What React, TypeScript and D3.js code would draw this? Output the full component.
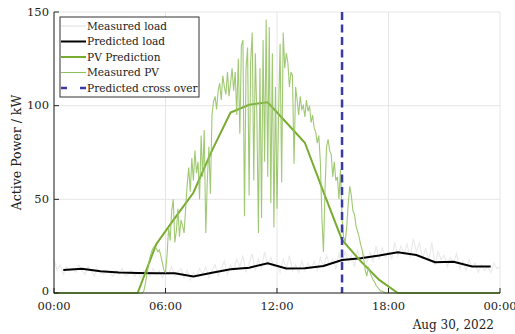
import * as d3 from 'd3';

// hours of day, half-hour hourly samples of the predictions
const predHours = [0.5, 1.5, 2.5, 3.5, 4.5, 5.5, 6.5, 7.5, 8.5, 9.5, 10.5, 11.5, 12.5, 13.5, 14.5, 15.5, 16.5, 17.5, 18.5, 19.5, 20.5, 21.5, 22.5, 23.5];
const predictedLoad = [12.3, 13.0, 11.6, 11.0, 10.7, 10.6, 10.5, 8.8, 10.8, 12.7, 13.5, 15.9, 13.1, 13.2, 14.4, 17.6, 18.5, 20.0, 21.8, 20.3, 16.4, 16.7, 14.1, 14.1];
const pvPrediction = [0, 0, 0, 0, 0, 26, 40, 53.5, 76, 96.3, 100.5, 101.8, 91, 80.2, 54, 28.3, 17, 7, 0, 0, 0, 0, 0, 0];

// measured load, 10 min samples from 00:00 to 24:00
const measuredLoad = [
  18, 12, 15, 10, 14, 12,
  13, 11, 15, 12, 10, 14,
  12, 9, 13, 11, 10, 12,
  11, 9, 12, 10, 13, 9,
  10, 12, 9, 11, 8, 12,
  11, 9, 13, 10, 12, 8,
  12, 10, 14, 9, 11, 13,
  8, 12, 7, 11, 9, 13,
  10, 14, 8, 12, 15, 9,
  13, 17, 10, 15, 12, 18,
  14, 20, 11, 16, 21, 12,
  18, 13, 22, 15, 19, 14,
  16, 11, 18, 13, 20, 12,
  15, 11, 17, 12, 16, 13,
  17, 12, 19, 14, 20, 15,
  18, 13, 21, 16, 22, 17,
  20, 14, 23, 17, 21, 16,
  22, 17, 25, 18, 24, 19,
  23, 18, 27, 20, 25, 21,
  26, 19, 29, 22, 27, 18,
  24, 17, 27, 15, 22, 18,
  20, 14, 19, 16, 21, 13,
  17, 12, 18, 14, 16, 11,
  15, 12, 14, 11, 16, 13,
  14,
];

// measured PV, 5 min samples from 04:30 to 18:00 (zero outside)
const measuredPvStart = 4.5;
const measuredPv = [
  0, 0, 0, 0, 1, 5, 10, 15, 19, 22, 24, 25,
  24, 22, 23, 20, 16, 12, 11, 20, 35, 28, 44, 50,
  27, 33, 45, 30, 39, 36, 32, 45, 58, 67, 54, 72,
  60, 76, 64, 70, 50, 84, 62, 87, 32, 60, 78, 53,
  95, 102, 105, 98, 108, 112, 103, 116, 110, 106, 118, 105,
  112, 120, 108, 118, 95, 125, 85, 132, 135, 41, 120, 131,
  52, 124, 139, 60, 128, 95, 32, 120, 40, 135, 70, 146,
  62, 142, 48, 128, 35, 110, 45, 95, 133, 59, 139, 120,
  128, 123, 110, 118, 116, 69, 110, 103, 95, 105, 98, 100,
  94, 103, 97, 100, 91, 95, 88, 86, 80, 84, 70, 40,
  22, 55, 78, 82, 76, 74, 62, 70, 60, 62, 50, 66,
  40, 30, 27, 35, 48, 57, 52, 44, 42, 36, 33, 30,
  26, 23, 18, 12, 9, 14, 11, 9, 7, 6, 4, 3,
  2, 1, 1, 0.5, 0, 0, 0,
];

const crossOverHour = 15.5;
const yTicks = [0, 50, 100, 150];
const xTicks = [0, 6, 12, 18, 24];
const xTickLabels = ['00:00', '06:00', '12:00', '18:00', '00:00'];
const dateLabel = 'Aug 30, 2022';

const W = 515;
const H = 334;
const M = { top: 12, right: 15, bottom: 41, left: 54 };
const FONT = "'DejaVu Serif', serif";
const GREEN = '#77AC30';
const BLUE = '#3b3ba8';

type Pt = [number, number];

export default function App() {
  const x = d3.scaleLinear().domain([0, 24]).range([M.left, W - M.right]);
  const y = d3.scaleLinear().domain([0, 150]).range([H - M.bottom, M.top]);
  const line = d3.line<Pt>().x((d) => x(d[0])).y((d) => y(d[1]));

  const loadPts: Pt[] = measuredLoad.map((v, i) => [i / 6, v]);
  const pvPts: Pt[] = [[0, 0], ...measuredPv.map((v, i) => [measuredPvStart + i / 12, v] as Pt), [24, 0]];
  const predLoadPts: Pt[] = predHours.map((h, i) => [h, predictedLoad[i]]);
  const pvPredPts: Pt[] = [[0, 0], ...predHours.map((h, i) => [h, pvPrediction[i]] as Pt), [24, 0]];

  const x0 = x(0);
  const y0 = y(0);

  const legend = [
    { label: 'Measured load', stroke: '#e8e8e8', w: 1.5, dash: undefined as string | undefined },
    { label: 'Predicted load', stroke: '#000', w: 2, dash: undefined },
    { label: 'PV Prediction', stroke: GREEN, w: 2, dash: undefined },
    { label: 'Measured PV', stroke: '#8fc05a', w: 1, dash: undefined },
    { label: 'Predicted cross over', stroke: BLUE, w: 2.5, dash: '6 13' },
  ];
  const lg = { x: 60, y: 17, w: 139, h: 80, row: 15.5 };

  return (
    <svg width={W} height={H} style={{ position: 'absolute', left: 0, top: 0, background: '#fff', fontFamily: FONT }}>
      {/* grid */}
      <g stroke="#e6e6e6" strokeWidth={1}>
        {xTicks.map((t) => (
          <line key={'gx' + t} x1={x(t)} x2={x(t)} y1={y(150)} y2={y0} />
        ))}
        {yTicks.map((t) => (
          <line key={'gy' + t} x1={x0} x2={x(24)} y1={y(t)} y2={y(t)} />
        ))}
      </g>

      {/* data */}
      <path d={line(loadPts)!} fill="none" stroke="#ebebeb" strokeWidth={1.2} />
      <path d={line(predLoadPts)!} fill="none" stroke="#000" strokeWidth={2} />
      <path d={line(pvPredPts)!} fill="none" stroke={GREEN} strokeWidth={2} />
      <path d={line(pvPts)!} fill="none" stroke="#8fc05a" strokeWidth={1.1} strokeOpacity={0.85} />
      <line x1={x(crossOverHour)} x2={x(crossOverHour)} y1={y(150)} y2={y0} stroke={BLUE} strokeWidth={2.5} strokeDasharray="8 4.5" />

      {/* axes */}
      <g stroke="#222" strokeWidth={1}>
        <line x1={x0} x2={x0} y1={y(150)} y2={y0 + 0.5} />
        <line x1={x0} x2={x(24)} y1={y0} y2={y0} />
        {yTicks.map((t) => (
          <line key={'ty' + t} x1={x0} x2={x0 + 5} y1={y(t)} y2={y(t)} />
        ))}
        {xTicks.map((t) => (
          <line key={'tx' + t} x1={x(t)} x2={x(t)} y1={y0} y2={y0 - 5} />
        ))}
      </g>
      <g fontSize={11.5} fill="#222">
        {yTicks.map((t) => (
          <text key={'ly' + t} x={x0 - 5} y={y(t) - (t === 0 ? 2 : 0)} dy="0.33em" textAnchor="end">{t}</text>
        ))}
        {xTicks.map((t, i) => (
          <text key={'lx' + t + i} x={x(t)} y={y0 + 17} textAnchor="middle">{xTickLabels[i]}</text>
        ))}
        <text x={x(24) - 6} y={y0 + 36} textAnchor="end" fontSize={12}>{dateLabel}</text>
        <text transform={`translate(21,${(y(150) + y0) / 2}) rotate(-90)`} textAnchor="middle" fontSize={12.5}>Active Power / kW</text>
      </g>

      {/* legend */}
      <g>
        <rect x={lg.x} y={lg.y} width={lg.w} height={lg.h} fill="#fff" stroke="#333" strokeWidth={1} />
        {legend.map((d, i) => {
          const cy = lg.y + 9 + i * lg.row;
          return (
            <g key={d.label}>
              <line x1={lg.x + 1} x2={lg.x + 26} y1={cy} y2={cy} stroke={d.stroke} strokeWidth={d.w} strokeDasharray={d.dash} />
              <text x={lg.x + 27} y={cy} dy="0.35em" fontSize={10.6} fill="#222">{d.label}</text>
            </g>
          );
        })}
      </g>
    </svg>
  );
}
